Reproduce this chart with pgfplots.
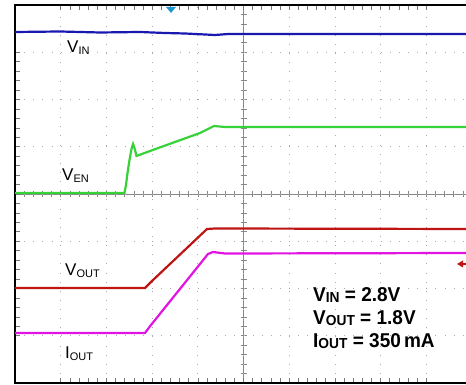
\documentclass[border=0pt]{standalone}
\usepackage{graphicx}
\usepackage{pgfplots}
\pgfplotsset{compat=1.18}
\usepackage{fontspec}
\setmainfont{Liberation Sans}
\definecolor{vin}{RGB}{25,25,175}
\definecolor{ven}{RGB}{55,210,55}
\definecolor{vout}{RGB}{190,20,20}
\definecolor{iout}{RGB}{225,20,225}
\definecolor{trig}{RGB}{30,150,210}
\definecolor{gridc}{RGB}{170,170,170}
\newcommand\lab[2]{{\fontsize{17}{17}\selectfont #1}\raisebox{-1.2pt}{\fontsize{11}{11}\selectfont #2}}
\newcommand\blab[2]{{\fontsize{20}{20}\selectfont\bfseries #1}\raisebox{-1pt}{\fontsize{14.5}{14.5}\selectfont\bfseries #2}}
\begin{document}
\begin{tikzpicture}[x=1pt,y=1pt]
% center cross with ticks
\draw[gridc!80!black, line width=0.7pt] (15,191) -- (472,191);
\draw[gridc!80!black, line width=0.7pt] (243.5,2) -- (243.5,380);
\foreach \i in {0,...,50} \draw[gridc!80!black, line width=0.6pt] ({15+\i*9.14},188) -- ({15+\i*9.14},194);
\foreach \i in {0,...,40} \draw[gridc!80!black, line width=0.6pt] (240.5,{2+\i*9.45}) -- (246.5,{2+\i*9.45});
\begin{axis}[at={(15pt,2pt)}, anchor=south west, scale only axis,
  width=457pt, height=378pt,
  xmin=15, xmax=472, ymin=2, ymax=380,
  xtick={60.7,106.4,152.1,197.8,243.5,289.2,334.9,380.6,426.3},
  ytick={49.25,96.5,143.75,191,238.25,285.5,332.75},
  xticklabels={}, yticklabels={},
  minor x tick num=4, minor y tick num=4,
  tick align=inside, major tick length=5pt, minor tick length=5pt,
  every tick/.style={gridc!70!black, line width=0.6pt},
  grid=major,
  major grid style={gridc, line width=0.8pt, dash pattern=on 0.8pt off 8.34pt},
  axis line style={black, line width=2pt},
]
\addplot[vin, line width=2.2pt] coordinates {(15,353)(60,353.5)(100,352.5)(140,353)(165,352)(185,351.5)(205,350.5)(215,350)(228,351)(243,351)(300,351)(350,351)(400,351)(472,351)};
\addplot[ven, line width=2.2pt] coordinates {(15,192)(124.5,192)(126,200)(127.5,212)(129.5,225)(131.5,236)(133,241)(134.5,237)(136.5,229)(150,234)(175,243)(200,252)(210,257)(214,259)(225,258)(240,258)(472,258)};
\addplot[vout, line width=2.2pt] coordinates {(15,97)(145,97)(152,104)(207,156)(215,156.5)(472,156)};
\addplot[iout, line width=2.2pt] coordinates {(15,52)(145,52)(151,60)(208,131)(213,133)(225,131.5)(472,132)};
\end{axis}
% markers
\fill[trig] (166,378) -- (176,378) -- (171,372) -- cycle;
\fill[vout] (457,121) -- (463,124.5) -- (463,117.5) -- cycle;
\draw[vout, line width=1.2pt] (460,121) -- (466,121);
% labels
\node[anchor=base west, inner sep=0] at (67,332) {\lab{V}{IN}};
\node[anchor=base west, inner sep=0] at (62,204) {\lab{V}{EN}};
\node[anchor=base west, inner sep=0] at (65,109) {\lab{V}{OUT}};
\node[anchor=base west, inner sep=0] at (65,26) {\lab{I}{OUT}};
\node[anchor=base west, inner sep=0] at (313,83) {\scalebox{0.95}[1]{\blab{V}{IN}\fontsize{20}{20}\selectfont\bfseries\ = 2.8V}};
\node[anchor=base west, inner sep=0] at (313,60) {\scalebox{0.95}[1]{\blab{V}{OUT}\fontsize{20}{20}\selectfont\bfseries\ = 1.8V}};
\node[anchor=base west, inner sep=0] at (313,37) {\scalebox{0.95}[1]{\blab{I}{OUT}\fontsize{20}{20}\selectfont\bfseries\ = 350\,mA}};
\pgfresetboundingbox
\path[use as bounding box] (0,0) rectangle (466,385);
\end{tikzpicture}
\end{document}
